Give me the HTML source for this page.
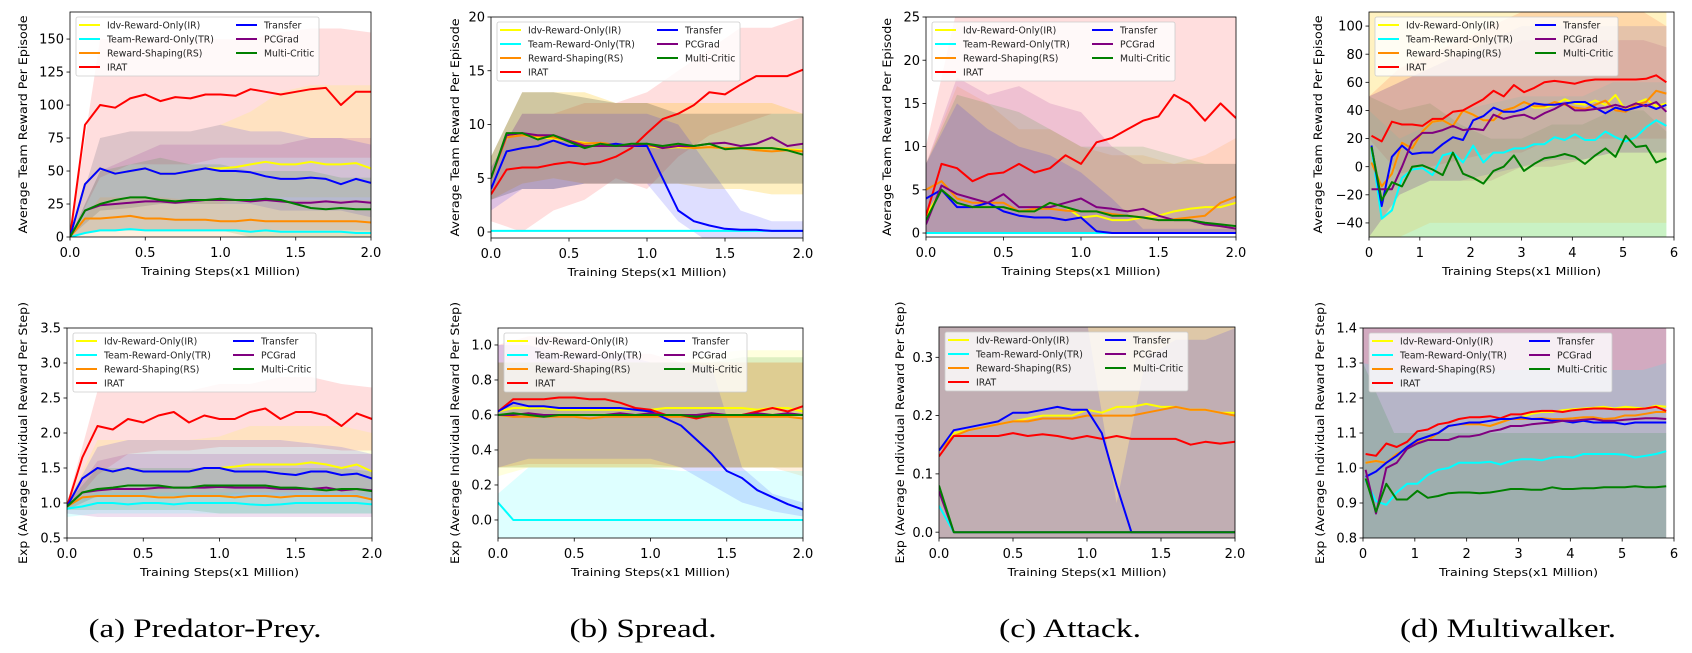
<!DOCTYPE html>
<html><head><meta charset="utf-8"><style>
html,body{margin:0;padding:0;background:#fff;}
svg{display:block;}
</style></head><body>
<svg id="fig" width="1692" height="653" viewBox="0 0 1692 653" xmlns="http://www.w3.org/2000/svg"></svg>
<script>
// ---------- data ----------
const seriesNames = ['Idv-Reward-Only(IR)','Team-Reward-Only(TR)','Reward-Shaping(RS)','IRAT','Transfer','PCGrad','Multi-Critic'];
const seriesColors = ['#ffff00','#00ffff','#ff8c00','#ff0000','#0000ff','#800080','#008000'];
const legendOrder = [0,1,2,3,4,5,6];

const xTwo = [0,0.1,0.2,0.3,0.4,0.5,0.6,0.7,0.8,0.9,1.0,1.1,1.2,1.3,1.4,1.5,1.6,1.7,1.8,1.9,2.0];
const xSix = [0.05,0.25,0.45,0.65,0.85,1.05,1.25,1.45,1.65,1.85,2.05,2.25,2.45,2.65,2.85,3.05,3.25,3.45,3.65,3.85,4.05,4.25,4.45,4.65,4.85,5.05,5.25,5.45,5.65,5.85];
const bandXTwo = [0,0.2,0.4,0.6,0.8,1.0,1.2,1.4,1.6,1.8,2.0];
const bandXSix = [0,0.6,1.2,1.8,2.4,3.0,3.6,4.2,4.8,5.4,5.85];

// (a) top
const aTopIR = [0,40,52,48,50,52,48,48,50,52,52,53,55,57,55,55,57,55,55,56,52];
const aTopTR = [0,3,5,5,6,5,5,5,5,5,5,5,4,5,4,4,4,4,4,3,3];
const aTopRS = [0,14,14,15,16,14,14,13,13,13,12,12,13,12,12,12,12,12,12,12,11];
const aTopIRAT = [0,85,100,98,105,108,103,106,105,108,108,107,112,110,108,110,112,113,100,110,110];
const aTopTransfer = [0,40,52,48,50,52,48,48,50,52,50,50,49,46,44,44,45,44,40,44,41];
const aTopPC = [0,20,24,25,26,27,27,26,27,28,28,28,27,28,27,26,26,27,26,27,26];
const aTopMC = [0,20,25,28,30,30,28,27,28,28,29,28,28,29,28,25,22,21,22,21,21];
// (b) top
const bTopIR = [5,9,9,8.8,8.7,8.5,8.3,8.2,8,8,8,7.8,7.9,7.8,7.9,7.8,7.8,7.7,7.8,7.7,7.6];
const bTopTR = [0.1,0.1,0.1,0.1,0.1,0.1,0.1,0.1,0.1,0.1,0.1,0.1,0.1,0.1,0.1,0.1,0.1,0.1,0.1,0.1,0.1];
const bTopRS = [5,8.8,9,8.9,8.8,8.5,8.2,8.3,8.1,8,8,8,8,7.8,7.9,7.8,7.8,7.6,7.5,7.6,7.5];
const bTopIRAT = [3.5,5.8,6,6,6.3,6.5,6.3,6.5,7,7.8,9.2,10.5,11,11.8,13,12.8,13.7,14.5,14.5,14.5,15.1];
const bTopTransfer = [4,7.5,7.8,8,8.5,8,8,8,8.2,8,8,5,2,1,0.6,0.3,0.2,0.2,0.1,0.1,0.1];
const bTopPC = [5,9,9.2,9,9,8.5,8,8,8,8,8.2,7.8,8,8,8.2,8.3,8,8.2,8.8,8,8.2];
const bTopMC = [5,9.2,9.2,8.6,9,8.4,7.8,8.2,8,8.2,8.2,8,8.2,8,8.2,7.7,7.8,7.8,7.8,7.6,7.2];
// (c) top
const cTopIR = [2,5,3.5,3,3,3,2.5,2.5,3.5,3,1.8,2,1.5,1.5,1.8,2,2.5,2.8,3,3,3.5];
const cTopTR = [0,0,0,0,0,0,0,0,0,0,0,0,0,0,0,0,0,0,0,0,0];
const cTopRS = [5,6,4,3.5,3.5,3.5,2.5,2.8,2.8,2.6,2.5,2.5,2.2,2,1.8,1.5,1.6,1.8,2,3.5,4.2];
const cTopIRAT = [2,8,7.5,6,6.8,7,8,7,7.5,9,8,10.5,11,12,13,13.5,16,15,13,15,13.3];
const cTopTransfer = [4,5,3,3,3.5,2.5,2,1.8,1.8,1.5,1.8,0.2,0,0,0,0,0,0,0,0,0];
const cTopPC = [1,5.5,4.5,4,3.5,4.5,3,3,3,3.5,4,3,2.8,2.5,2.8,2,1.5,1.5,1,0.8,0.5];
const cTopMC = [1.5,5,3.5,3,3,3,2.5,2.5,3.5,3,2.5,2.5,2,2,1.8,1.5,1.5,1.5,1.2,1,0.8];
// (d) top
const dTopIR = [3,-14,-5,17,13,25,32,33,29,40,37,33,33,40,42,46,42,42,44,48,45,44,47,44,51,40,45,48,43,45];
const dTopTR = [13,-37,-31,-8,-2,-1,-6,8,10,3,15,3,10,10,13,13,16,16,21,19,23,19,19,25,21,18,21,28,33,29];
const dTopRS = [3,-14,-5,17,13,25,32,33,29,40,37,33,33,40,42,46,43,43,46,44,42,41,44,47,40,39,44,46,54,52];
const dTopIRAT = [22,18,32,30,30,29,34,34,39,40,44,48,54,50,58,53,56,60,61,60,59,61,62,62,62,62,62,62.5,65,60];
const dTopTransfer = [15,-28,7,15,9,10,10,16,21,19,33,36,42,39,39,41,45,44,44,45,46,46,42,38,42,40,42,44,41,44];
const dTopPC = [-16,-16,-16,0,18,24,24,26,29,26,27,26,37,34,36,37,34,38,41,45,40,40,41,42,44,42,45,43,46,39];
const dTopMC = [14,-24,-11,-14,0,1,-2,-6,10,-5,-8,-12,-3,0,8,-3,2,6,7,9,7,2,8,13,7,22,14,15,3,6];
// (a) bottom
const aBotIR = [0.95,1.35,1.5,1.45,1.5,1.45,1.45,1.45,1.45,1.5,1.5,1.52,1.55,1.55,1.55,1.55,1.58,1.55,1.5,1.55,1.45];
const aBotTR = [0.92,0.95,1.0,1.0,0.98,1.0,1.0,0.98,1.0,1.0,1.0,1.0,0.98,0.97,0.98,1.0,1.0,1.0,1.0,1.0,0.98];
const aBotRS = [0.95,1.08,1.1,1.1,1.1,1.1,1.08,1.08,1.1,1.1,1.1,1.08,1.1,1.1,1.08,1.1,1.1,1.1,1.1,1.1,1.05];
const aBotIRAT = [0.95,1.65,2.1,2.05,2.2,2.15,2.25,2.3,2.15,2.25,2.2,2.2,2.3,2.35,2.2,2.3,2.3,2.25,2.1,2.28,2.2];
const aBotTransfer = [0.95,1.35,1.5,1.45,1.5,1.45,1.45,1.45,1.45,1.5,1.5,1.45,1.45,1.45,1.42,1.4,1.45,1.45,1.4,1.42,1.35];
const aBotPC = [0.95,1.15,1.18,1.2,1.2,1.2,1.22,1.22,1.22,1.22,1.23,1.22,1.22,1.22,1.2,1.2,1.2,1.22,1.18,1.2,1.18];
const aBotMC = [0.95,1.15,1.2,1.22,1.25,1.25,1.25,1.22,1.22,1.25,1.25,1.25,1.25,1.25,1.22,1.22,1.2,1.18,1.2,1.2,1.17];
// (b) bottom
const bBotIR = [0.62,0.64,0.64,0.64,0.63,0.63,0.63,0.63,0.63,0.63,0.63,0.64,0.64,0.64,0.64,0.64,0.64,0.63,0.64,0.64,0.62];
const bBotTR = [0.1,0,0,0,0,0,0,0,0,0,0,0,0,0,0,0,0,0,0,0,0];
const bBotRS = [0.6,0.59,0.59,0.59,0.59,0.59,0.58,0.59,0.59,0.59,0.59,0.59,0.59,0.59,0.59,0.59,0.59,0.59,0.59,0.59,0.58];
const bBotIRAT = [0.62,0.69,0.69,0.69,0.7,0.7,0.69,0.69,0.67,0.64,0.63,0.6,0.6,0.58,0.6,0.6,0.6,0.62,0.64,0.62,0.65];
const bBotTransfer = [0.62,0.67,0.65,0.65,0.64,0.64,0.64,0.64,0.64,0.63,0.62,0.58,0.54,0.46,0.38,0.28,0.24,0.17,0.13,0.09,0.06];
const bBotPC = [0.6,0.6,0.61,0.6,0.6,0.6,0.6,0.6,0.61,0.6,0.61,0.6,0.6,0.6,0.61,0.6,0.6,0.61,0.6,0.61,0.6];
const bBotMC = [0.6,0.61,0.6,0.59,0.6,0.6,0.6,0.6,0.6,0.6,0.6,0.6,0.6,0.59,0.6,0.6,0.6,0.6,0.6,0.6,0.6];
// (c) bottom
const cBotIR = [0.14,0.17,0.175,0.18,0.185,0.19,0.195,0.2,0.2,0.2,0.21,0.205,0.215,0.215,0.22,0.215,0.215,0.21,0.21,0.205,0.205];
const cBotTR = [0.045,0,0,0,0,0,0,0,0,0,0,0,0,0,0,0,0,0,0,0,0];
const cBotRS = [0.14,0.165,0.175,0.18,0.185,0.19,0.19,0.195,0.195,0.195,0.2,0.2,0.2,0.2,0.205,0.21,0.215,0.21,0.21,0.205,0.2];
const cBotIRAT = [0.13,0.165,0.165,0.165,0.165,0.17,0.165,0.168,0.165,0.16,0.165,0.16,0.165,0.16,0.16,0.16,0.16,0.15,0.155,0.152,0.155];
const cBotTransfer = [0.14,0.175,0.18,0.185,0.19,0.205,0.205,0.21,0.215,0.21,0.21,0.17,0.08,0,0,0,0,0,0,0,0];
const cBotPC = [0.07,0,0,0,0,0,0,0,0,0,0,0,0,0,0,0,0,0,0,0,0];
const cBotMC = [0.08,0,0,0,0,0,0,0,0,0,0,0,0,0,0,0,0,0,0,0,0];
// (d) bottom
const dBotIR = [1.015,1.02,1.015,1.04,1.055,1.075,1.08,1.1,1.12,1.125,1.125,1.125,1.12,1.13,1.14,1.145,1.155,1.16,1.16,1.165,1.168,1.17,1.172,1.175,1.17,1.175,1.172,1.17,1.178,1.175];
const dBotTR = [0.965,0.905,0.895,0.93,0.955,0.955,0.98,0.995,1.0,1.015,1.015,1.015,1.018,1.01,1.02,1.025,1.025,1.022,1.03,1.032,1.03,1.04,1.04,1.04,1.04,1.038,1.03,1.035,1.04,1.048];
const dBotRS = [1.015,1.02,1.015,1.04,1.055,1.075,1.08,1.1,1.12,1.125,1.125,1.125,1.12,1.13,1.14,1.14,1.14,1.142,1.14,1.14,1.142,1.145,1.145,1.14,1.142,1.15,1.15,1.155,1.16,1.16];
const dBotIRAT = [1.04,1.035,1.07,1.06,1.075,1.105,1.11,1.125,1.13,1.14,1.145,1.145,1.148,1.142,1.153,1.153,1.16,1.163,1.163,1.16,1.165,1.168,1.17,1.17,1.168,1.168,1.168,1.17,1.175,1.163];
const dBotTransfer = [0.975,0.99,1.015,1.035,1.06,1.08,1.09,1.1,1.12,1.125,1.13,1.13,1.135,1.14,1.14,1.145,1.14,1.14,1.135,1.135,1.13,1.135,1.13,1.13,1.13,1.125,1.13,1.13,1.13,1.13];
const dBotPC = [0.995,0.87,1.0,1.015,1.055,1.07,1.08,1.08,1.08,1.09,1.09,1.095,1.105,1.11,1.12,1.12,1.125,1.128,1.13,1.135,1.135,1.138,1.14,1.135,1.135,1.138,1.14,1.142,1.142,1.14];
const dBotMC = [0.97,0.875,0.955,0.91,0.91,0.935,0.915,0.92,0.928,0.93,0.93,0.928,0.93,0.935,0.94,0.94,0.938,0.938,0.945,0.94,0.94,0.942,0.942,0.945,0.945,0.945,0.948,0.945,0.945,0.948];

// shaded std bands: [seriesIndex, lo, hi] sampled at band x arrays
const aTopBands = [
 [3,[0,45,55,55,55,60,60,60,60,60,60],[0,150,150,150,150,150,150,155,158,158,155]],
 [0,[0,20,22,25,25,25,30,30,30,30,30],[0,75,80,80,80,85,95,110,115,115,115]],
 [4,[0,20,22,25,25,25,25,20,20,20,15],[0,75,80,80,80,85,80,80,75,75,70]],
 [5,[0,5,5,5,5,5,5,5,5,5,5],[0,50,60,70,70,70,70,70,75,75,75]],
 [6,[0,5,5,5,5,5,0,0,0,0,0],[0,50,55,60,55,55,50,50,50,45,45]],
 [2,[0,0,0,0,0,0,0,0,0,0,0],[0,30,30,30,28,28,28,28,28,28,28]]];
const bTopBands = [
 [3,[1,0,2,3,5,4,7,9,10,11,11],[6,11,11,12,12,13,15,17,19,19,20]],
 [0,[3,4.5,5,4.5,4.5,4.5,4.5,4,4,3.5,3.5],[7,13,13,13,12,12,12,12,12,12,11]],
 [2,[3,4.5,5,4.5,4.5,4.5,4.5,4,4,3.5,3.5],[7,13,13,13,12,12,12,12,12,12,11]],
 [5,[3,4,4,4.5,4.5,4.5,4.5,4.5,4.5,4.5,4.5],[7,13,13,12.5,12,12,11,11,11,11,11]],
 [6,[3,4,4,4.5,4.5,4.5,4.5,4.5,4.5,4.5,4.5],[7,13,13,12.5,12,12,11,11,11,11,11]],
 [4,[2,4,4,4.5,4.5,4.5,1,-1,-1,-1,-1],[6,11,11,11,11,11,10,6,2,1,1]]];
const cTopBands = [
 [3,[0,0,0,0,0,0,0,0,0,0,0],[10,26,26,26,26,26,26,26,26,26,26]],
 [2,[0,0,0,0,0,0,0,0,0,0,0],[8,17,15,12,12,10,9,9,8,9,11]],
 [5,[0,0,0,0,0,0,0,0,0,0,0],[8,18,16,17,15,14,10,8,8,8,8]],
 [6,[0,0,0,0,0,0,0,0,0,0,0],[8,16,15,14,12,10,10,10,9,8,8]],
 [4,[0,0,0,0,0,0,0,0,0,0,0],[8,15,12,10,9,7,4,0.5,0.5,0.5,0.5]]];
const dTopBands = [
 [3,[20,-5,0,5,10,10,20,20,20,20,20],[50,70,80,90,100,110,110,110,110,110,100]],
 [6,[-50,-50,-50,-50,-50,-50,-50,-50,-50,-50,-50],[50,40,45,30,20,20,30,30,40,40,25]],
 [1,[-50,-50,-50,-50,-50,-50,-50,-50,-50,-50,-50],[40,20,30,40,45,50,50,50,60,60,60]],
 [5,[-50,-20,-10,-10,-10,0,0,5,10,10,10],[50,60,70,80,80,90,90,90,90,90,85]],
 [4,[-50,-20,-10,-10,-5,0,5,5,10,10,10],[50,60,70,80,90,100,100,100,100,100,100]],
 [2,[-50,-50,-40,-40,-40,-40,-40,-40,-40,-40,-40],[110,110,110,110,110,110,110,110,110,110,110]],
 [0,[-50,-50,-50,-50,-50,-50,-50,-50,-50,-50,-50],[110,110,110,110,110,110,110,110,110,110,110]]];
const aBotBands = [
 [3,[0.9,1.4,1.7,1.75,1.75,1.8,1.8,1.8,1.8,1.75,1.75],[1.0,2.6,2.6,2.6,2.6,2.7,2.7,2.8,2.8,2.7,2.65]],
 [0,[0.9,1.1,1.1,1.1,1.1,1.1,1.15,1.15,1.15,1.15,1.1],[1.0,1.9,1.9,1.9,1.9,1.95,2.1,2.1,2.1,2.1,2.0]],
 [4,[0.9,1.1,1.1,1.1,1.1,1.1,1.1,1.1,1.1,1.1,1.05],[1.0,1.8,1.9,1.9,1.9,1.9,1.9,1.9,1.85,1.8,1.7]],
 [5,[0.85,0.8,0.8,0.8,0.8,0.8,0.8,0.8,0.8,0.8,0.8],[1.0,1.6,1.7,1.7,1.7,1.7,1.7,1.7,1.7,1.7,1.7]],
 [6,[0.9,0.9,0.9,0.9,0.9,0.85,0.85,0.85,0.85,0.85,0.85],[1.0,1.5,1.5,1.5,1.5,1.5,1.5,1.5,1.5,1.5,1.45]],
 [1,[0.8,0.85,0.85,0.85,0.85,0.85,0.85,0.85,0.85,0.85,0.85],[1.0,1.15,1.15,1.15,1.15,1.15,1.15,1.15,1.15,1.15,1.15]]];
const bBotBands = [
 [3,[0.3,0.32,0.32,0.32,0.32,0.32,0.3,0.3,0.3,0.3,0.3],[1.0,1.05,1.05,1.0,0.95,0.95,0.9,0.9,0.9,0.9,0.9]],
 [2,[0.3,0.3,0.3,0.3,0.3,0.3,0.3,0.3,0.3,0.3,0.25],[0.9,0.9,0.9,0.9,0.9,0.9,0.9,0.9,0.9,0.9,0.9]],
 [0,[0.25,0.3,0.3,0.3,0.3,0.3,0.3,0.3,0.3,0.3,0.3],[0.9,0.9,0.9,0.9,0.9,0.9,0.9,0.95,0.97,0.97,0.97]],
 [6,[0.3,0.3,0.3,0.3,0.3,0.3,0.3,0.3,0.3,0.3,0.3],[0.9,0.9,0.9,0.9,0.9,0.9,0.9,0.9,0.93,0.93,0.93]],
 [4,[0.3,0.35,0.35,0.35,0.35,0.35,0.3,0.2,0.1,0.05,0.02],[1.0,1.0,0.95,0.95,0.95,0.9,0.9,0.88,0.3,0.15,0.1]],
 [1,[-0.1,-0.1,-0.1,-0.1,-0.1,-0.1,-0.1,-0.1,-0.1,-0.1,-0.1],[0.15,0.3,0.3,0.3,0.3,0.3,0.28,0.28,0.28,0.28,0.28]]];
const cBotBands = [
 [3,[-0.01,-0.01,-0.01,-0.01,-0.01,-0.01,-0.01,-0.01,-0.01,-0.01,-0.01],[0.36,0.36,0.36,0.36,0.36,0.36,0.36,0.36,0.36,0.36,0.36]],
 [2,[-0.01,-0.01,-0.01,-0.01,-0.01,-0.01,-0.01,-0.01,-0.01,-0.01,-0.01],[0.36,0.36,0.36,0.36,0.36,0.36,0.36,0.36,0.36,0.36,0.36]],
 [6,[-0.01,-0.01,-0.01,-0.01,-0.01,-0.01,-0.01,-0.01,-0.01,-0.01,-0.01],[0.36,0.36,0.36,0.36,0.36,0.36,0.36,0.36,0.36,0.36,0.36]],
 [4,[-0.01,-0.01,-0.01,-0.01,-0.01,-0.01,-0.01,-0.01,-0.01,-0.01,-0.01],[0.36,0.36,0.36,0.36,0.36,0.36,0.05,0.3,0.33,0.33,0.35]]];
const dBotBands = [
 [3,[0.8,0.8,0.8,0.8,0.8,0.8,0.8,0.8,0.8,0.8,0.8],[1.4,1.4,1.4,1.4,1.4,1.4,1.4,1.4,1.4,1.4,1.4]],
 [0,[0.8,0.8,0.8,0.8,0.8,0.8,0.8,0.8,0.8,0.8,0.8],[1.4,1.4,1.4,1.4,1.4,1.4,1.4,1.4,1.4,1.4,1.4]],
 [4,[0.8,0.8,0.8,0.8,0.8,0.8,0.8,0.8,0.8,0.8,0.8],[1.4,1.4,1.4,1.4,1.4,1.4,1.4,1.4,1.4,1.4,1.4]],
 [5,[0.8,0.8,0.8,0.8,0.8,0.8,0.8,0.8,0.8,0.8,0.8],[1.4,1.4,1.4,1.4,1.4,1.4,1.4,1.4,1.4,1.4,1.4]],
 [1,[0.8,0.8,0.8,0.8,0.8,0.8,0.8,0.8,0.8,0.8,0.8],[1.3,1.28,1.28,1.28,1.28,1.28,1.28,1.28,1.28,1.28,1.3]],
 [6,[0.8,0.8,0.8,0.8,0.8,0.8,0.8,0.8,0.8,0.8,0.8],[1.3,1.1,1.1,1.1,1.1,1.1,1.1,1.1,1.1,1.1,1.1]]];

const twoTicks = [0,0.5,1.0,1.5,2.0];
const twoTickLabels = ['0.0','0.5','1.0','1.5','2.0'];
const sixTicks = [0,1,2,3,4,5,6];
const sixTickLabels = ['0','1','2','3','4','5','6'];
const aTopYTicks = [0,25,50,75,100,125,150];
const bTopYTicks = [0,5,10,15,20];
const cTopYTicks = [0,5,10,15,20,25];
const dTopYTicks = [-40,-20,0,20,40,60,80,100];
const aBotYTicks = [0.5,1.0,1.5,2.0,2.5,3.0,3.5];
const aBotYLabels = ['0.5','1.0','1.5','2.0','2.5','3.0','3.5'];
const bBotYTicks = [0,0.2,0.4,0.6,0.8,1.0];
const bBotYLabels = ['0.0','0.2','0.4','0.6','0.8','1.0'];
const cBotYTicks = [0,0.1,0.2,0.3];
const cBotYLabels = ['0.0','0.1','0.2','0.3'];
const dBotYTicks = [0.8,0.9,1.0,1.1,1.2,1.3,1.4];
const dBotYLabels = ['0.8','0.9','1.0','1.1','1.2','1.3','1.4'];

const topLabel = 'Average Team Reward Per Episode';
const botLabel = 'Exp (Average Individual Reward Per Step)';

const panels = [
 {id:'a-top',L:70,R:371,T:12,B:237,x0:0,x1:2,y0:0,y1:170.5,xs:xTwo,bx:bandXTwo,series:[aTopIR,aTopTR,aTopRS,aTopIRAT,aTopTransfer,aTopPC,aTopMC],bands:aTopBands,xt:twoTicks,xtl:twoTickLabels,yt:aTopYTicks,ytl:aTopYTicks.map(String),yl:topLabel,ylx:23},
 {id:'b-top',L:491,R:803,T:17,B:238,x0:0,x1:2,y0:-0.56,y1:20,xs:xTwo,bx:bandXTwo,series:[bTopIR,bTopTR,bTopRS,bTopIRAT,bTopTransfer,bTopPC,bTopMC],bands:bTopBands,xt:twoTicks,xtl:twoTickLabels,yt:bTopYTicks,ytl:bTopYTicks.map(String),yl:topLabel,ylx:455},
 {id:'c-top',L:926,R:1236,T:17,B:237,x0:0,x1:2,y0:-0.46,y1:25,xs:xTwo,bx:bandXTwo,series:[cTopIR,cTopTR,cTopRS,cTopIRAT,cTopTransfer,cTopPC,cTopMC],bands:cTopBands,xt:twoTicks,xtl:twoTickLabels,yt:cTopYTicks,ytl:cTopYTicks.map(String),yl:topLabel,ylx:887},
 {id:'d-top',L:1369,R:1674,T:12,B:237,x0:0,x1:6,y0:-50,y1:110,xs:xSix,bx:bandXSix,series:[dTopIR,dTopTR,dTopRS,dTopIRAT,dTopTransfer,dTopPC,dTopMC],bands:dTopBands,xt:sixTicks,xtl:sixTickLabels,yt:dTopYTicks,ytl:dTopYTicks.map(v=>v<0?'\u2212'+(-v):String(v)),yl:topLabel,ylx:1318},
 {id:'a-bottom',L:67,R:372,T:328,B:538,x0:0,x1:2,y0:0.5,y1:3.5,xs:xTwo,bx:bandXTwo,series:[aBotIR,aBotTR,aBotRS,aBotIRAT,aBotTransfer,aBotPC,aBotMC],bands:aBotBands,xt:twoTicks,xtl:twoTickLabels,yt:aBotYTicks,ytl:aBotYLabels,yl:botLabel,ylx:23},
 {id:'b-bottom',L:498,R:803,T:328,B:538,x0:0,x1:2,y0:-0.103,y1:1.097,xs:xTwo,bx:bandXTwo,series:[bBotIR,bBotTR,bBotRS,bBotIRAT,bBotTransfer,bBotPC,bBotMC],bands:bBotBands,xt:twoTicks,xtl:twoTickLabels,yt:bBotYTicks,ytl:bBotYLabels,yl:botLabel,ylx:455},
 {id:'c-bottom',L:939,R:1235,T:327,B:538,x0:0,x1:2,y0:-0.01,y1:0.352,xs:xTwo,bx:bandXTwo,series:[cBotIR,cBotTR,cBotRS,cBotIRAT,cBotTransfer,cBotPC,cBotMC],bands:cBotBands,xt:twoTicks,xtl:twoTickLabels,yt:cBotYTicks,ytl:cBotYLabels,yl:botLabel,ylx:900},
 {id:'d-bottom',L:1363,R:1674,T:328,B:538,x0:0,x1:6,y0:0.8,y1:1.4,xs:xSix,bx:bandXSix,series:[dBotIR,dBotTR,dBotRS,dBotIRAT,dBotTransfer,dBotPC,dBotMC],bands:dBotBands,xt:sixTicks,xtl:sixTickLabels,yt:dBotYTicks,ytl:dBotYLabels,yl:botLabel,ylx:1320}
];
const captions = [['(a) Predator-Prey.',205,233],['(b) Spread.',643,147],['(c) Attack.',1070,142],['(d) Multiwalker.',1508,216]];

// ---------- rendering ----------
const NS='http://www.w3.org/2000/svg';
const svg=document.getElementById('fig');
function mk(tag,attrs,parent){const e=document.createElementNS(NS,tag);for(const k in attrs)e.setAttribute(k,attrs[k]);(parent||svg).appendChild(e);return e;}
const FONT='"DejaVu Sans","Liberation Sans",sans-serif';

panels.forEach((p,pi)=>{
  const sx=v=>p.L+(v-p.x0)/(p.x1-p.x0)*(p.R-p.L);
  const sy=v=>p.B-(v-p.y0)/(p.y1-p.y0)*(p.B-p.T);
  const g=mk('g',{});
  
  
  const cp=mk('clipPath',{id:'clip'+pi},g);
  mk('rect',{x:p.L,y:p.T,width:p.R-p.L,height:p.B-p.T},cp);
  const plot=mk('g',{'clip-path':'url(#clip'+pi+')'},g);
  p.bands.forEach(b=>{
    const [si,lo,hi]=b;
    let pts=[];
    p.bx.forEach((x,i)=>pts.push(sx(x).toFixed(1)+','+sy(hi[i]).toFixed(1)));
    for(let i=p.bx.length-1;i>=0;i--)pts.push(sx(p.bx[i]).toFixed(1)+','+sy(lo[i]).toFixed(1));
    const poly=mk('polygon',{points:pts.join(' '),fill:seriesColors[si],'fill-opacity':0.13,stroke:'none'},plot);
    
    
  });
  p.series.forEach((ys,si)=>{
    const n=Math.min(ys.length,p.xs.length);
    let d='';
    for(let i=0;i<n;i++)d+=(i?'L':'M')+sx(p.xs[i]).toFixed(1)+','+sy(ys[i]).toFixed(1);
    const path=mk('path',{d:d,fill:'none',stroke:seriesColors[si],'stroke-width':2,'stroke-linejoin':'round'},plot);
    
    
  });
  const fr=mk('rect',{x:p.L,y:p.T,width:p.R-p.L,height:p.B-p.T,fill:'none',stroke:'#000','stroke-width':0.8},g);
  
  
  p.xt.forEach((v,i)=>{
    const x=sx(v);
    mk('line',{x1:x,x2:x,y1:p.B,y2:p.B+3.5,stroke:'#000','stroke-width':0.8},g);
    const t=mk('text',{x:x,y:p.B+20,'text-anchor':'middle','font-family':FONT,'font-size':13,fill:'#000'},g);
    t.textContent=p.xtl[i];
    
    
  });
  p.yt.forEach((v,i)=>{
    const y=sy(v);
    mk('line',{x1:p.L-3.5,x2:p.L,y1:y,y2:y,stroke:'#000','stroke-width':0.8},g);
    const t=mk('text',{x:p.L-6,y:y+4.6,'text-anchor':'end','font-family':FONT,'font-size':13,fill:'#000'},g);
    t.textContent=p.ytl[i];
    
    
  });
  const xl=mk('text',{x:(p.L+p.R)/2,y:p.B+38,'text-anchor':'middle','font-family':FONT,'font-size':10.5,textLength:159,lengthAdjust:'spacingAndGlyphs',fill:'#000'},g);
  xl.textContent='Training Steps(x1 Million)';
  
  
  const cy=(p.T+p.B)/2;
  const isTop=p.T<200;
  const yl=mk('text',{x:p.ylx,y:cy,'text-anchor':'middle','font-family':FONT,'font-size':11.5,textLength:isTop?218:262,lengthAdjust:'spacingAndGlyphs',transform:'rotate(-90 '+p.ylx+' '+cy+')',dy:4,fill:'#000'},g);
  yl.textContent=p.yl;
  
  
  const lx=p.L+6, ly=p.T+5;
  const lg=mk('g',{},g);
  
  
  mk('rect',{x:lx,y:ly,width:243,height:59,rx:2,fill:'#fff','fill-opacity':0.8,stroke:'#cccccc','stroke-width':0.8},lg);
  legendOrder.forEach((si,k)=>{
    const col=k<4?0:1, row=k<4?k:k-4;
    const ex=lx+3+col*157, ey=ly+8+row*14;
    const e=mk('g',{},lg);
    
    
    mk('line',{x1:ex,x2:ex+21,y1:ey,y2:ey,stroke:seriesColors[si],'stroke-width':2},e);
    const t=mk('text',{x:ex+28,y:ey+3.4,'font-family':FONT,'font-size':9.3,fill:'#222'},e);
    t.textContent=seriesNames[si];
  });
});
captions.forEach(c=>{
  const t=mk('text',{x:c[1],y:637,'text-anchor':'middle','font-family':'"Liberation Serif",serif','font-size':26,textLength:c[2],lengthAdjust:'spacingAndGlyphs',fill:'#000'});
  t.textContent=c[0];
  
  
});
</script>
</body></html>
